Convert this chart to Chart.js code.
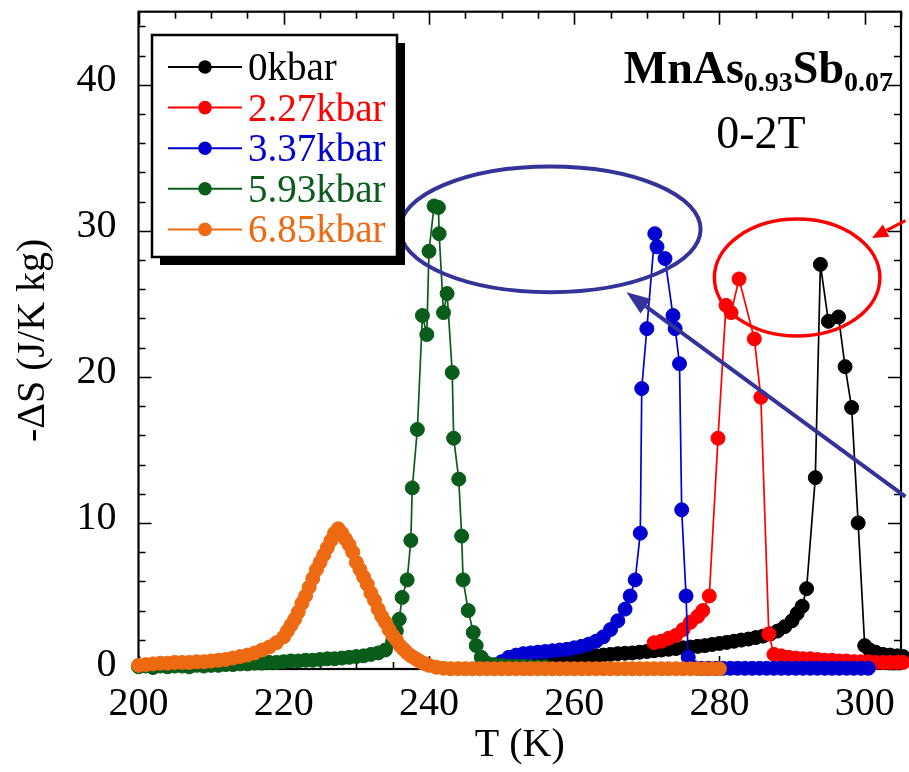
<!DOCTYPE html>
<html><head><meta charset="utf-8">
<script src="https://cdn.jsdelivr.net/npm/chart.js@4.4.0/dist/chart.umd.min.js"></script>
<style>html,body{margin:0;padding:0;background:#fff}canvas{display:block}</style>
</head><body>
<canvas id="c" width="909" height="772"></canvas>
<script>
// ---------- data ----------
const seriesLabels = ['0kbar', '2.27kbar', '3.37kbar', '5.93kbar', '6.85kbar'];
const seriesColors = ['#000000', '#ff0000', '#0000d0', '#0a5c1a', '#ee6a12'];
const xTickValues = [200, 220, 240, 260, 280, 300];
const yTickValues = [0, 10, 20, 30, 40];

// 0 kbar (black)
const t0 = [250,251,252,253,254,255,256,257,258,259,260,261,262,263,264,265,266,267,268,269,270,271,272,273,274,275,276,277,278,279,280,281,282,283,284,285,286,287,288,289,290,290.7,291.4,292,293.2,293.9,295.0,296.4,297.3,298.2,299.1,300.0,300.7,301.5,302.5,303.5,304.5,305.3];
const s0 = [0.3,0.35,0.4,0.45,0.5,0.52,0.55,0.6,0.65,0.7,0.75,0.8,0.85,0.9,0.95,1.0,1.05,1.08,1.1,1.15,1.2,1.25,1.3,1.35,1.4,1.45,1.5,1.55,1.6,1.68,1.75,1.82,1.9,1.98,2.05,2.15,2.25,2.4,2.6,2.9,3.3,3.8,4.3,5.5,13.1,27.7,23.8,24.1,20.7,17.9,10.0,1.6,1.3,1.15,1.0,0.95,0.9,0.85];

// 2.27 kbar (red)
const t227 = [271,272,273,274,275,276,277,277.7,278.6,279.8,280.9,281.6,282.7,284.8,285.7,286.8,287.5,288.5,289.5,290.5,291.5,292.5,293.5,294.5,295.5,296.5,297.5,298.5,299.5,300.5,301.5,302.5,303.5,304.5,305.3];
const s227 = [1.8,1.9,2.1,2.3,2.7,3.2,3.6,4.0,5.0,15.8,24.9,24.4,26.7,22.6,18.6,2.4,1.0,0.9,0.8,0.75,0.7,0.7,0.65,0.6,0.6,0.55,0.55,0.5,0.5,0.5,0.45,0.45,0.45,0.45,0.45];

// 3.37 kbar (blue)
const t337 = [250,251,252,253,254,255,256,257,258,259,260,261,262,263,264,265,266,267,267.7,268.4,269.1,269.3,270.0,271.1,271.4,272.5,273.6,273.9,274.5,274.8,275.4,275.7,276.5,277.5,278.5,279.5,280.5,281.5,282.5,283.5,284.5,285.5,286.5,287.5,288.5,289.5,290.5,291.5,292.5,293.5,294.5,295.5,296.5,297.5,298.5,299.5,300.5];
const s337 = [0.5,0.8,0.95,1.05,1.1,1.15,1.2,1.25,1.3,1.35,1.45,1.55,1.7,1.9,2.2,2.7,3.3,4.1,5.0,6.1,9.3,19.2,23.3,29.8,28.9,28.1,24.2,23.3,20.9,10.9,5.0,0.8,0.1,0.05,0.05,0.05,0.05,0.05,0.05,0.05,0.05,0.05,0.05,0.05,0.05,0.05,0.05,0.05,0.05,0.05,0.05,0.05,0.05,0.05,0.05,0.05,0.05];

// 5.93 kbar (green)
const t593 = [200,201,202,203,204,205,206,207,208,209,210,211,212,213,214,215,216,217,218,219,220,221,222,223,224,225,226,227,228,229,230,231,232,233,234,235,235.5,235.9,236.3,237.0,237.5,237.7,238.4,239.1,239.7,240.0,240.7,241.3,241.4,242.0,242.5,243.2,243.4,244.1,244.5,244.7,245.4,246.1,246.5,247.2,248,249,250,251,252,253,254,255,256];
const s593 = [0.15,0.2,0.1,0.2,0.15,0.2,0.2,0.15,0.25,0.2,0.25,0.25,0.3,0.3,0.35,0.35,0.4,0.4,0.45,0.45,0.5,0.55,0.55,0.6,0.6,0.65,0.7,0.7,0.75,0.8,0.85,0.9,1.0,1.1,1.3,1.9,2.6,3.4,4.9,6.1,8.8,12.4,16.4,24.2,22.9,28.6,31.7,31.6,29.8,24.4,25.7,20.3,15.8,13.0,9.1,6.1,4.0,2.5,1.6,0.8,0.4,0.3,0.25,0.2,0.2,0.2,0.15,0.15,0.15];

// 6.85 kbar (orange)
const t685 = [200,201,202,203,204,205,206,207,208,209,210,211,212,213,214,215,216,217,218,219,220,220.5,221,221.5,222,222.5,223,223.5,224,224.5,225,225.5,226,226.5,227,227.5,228,228.5,229,229.5,230,230.5,231,231.5,232,232.5,233,233.5,234,234.5,235,235.5,236,236.5,237,237.5,238,238.5,239,239.5,240,241,242,243,244,245,246,247,248,249,250,251,252,253,254,255,256,257,258,259,260,261,262,263,264,265,266,267,268,269,270,271,272,273,274,275,276,277,278,279,280];
const s685 = [0.25,0.3,0.35,0.4,0.4,0.45,0.45,0.45,0.5,0.5,0.55,0.6,0.65,0.75,0.85,0.95,1.1,1.3,1.5,1.8,2.2,2.6,3.0,3.4,3.9,4.5,5.0,5.6,6.2,6.8,7.3,7.8,8.3,8.8,9.3,9.6,9.3,8.9,8.5,8.0,7.3,6.8,6.3,5.8,5.2,4.7,4.1,3.6,3.2,2.7,2.3,2.0,1.6,1.35,1.1,0.9,0.75,0.6,0.45,0.35,0.25,0.12,0.05,0.02,0.02,0.02,0.02,0.02,0.02,0.02,0.02,0.02,0.02,0.02,0.02,0.02,0.02,0.02,0.02,0.02,0.02,0.02,0.02,0.02,0.02,0.02,0.02,0.02,0.02,0.02,0.02,0.02,0.02,0.02,0.02,0.02,0.02,0.02,0.02,0.02,0.02];

const seriesT = [t0, t227, t337, t593, t685];
const seriesS = [s0, s227, s337, s593, s685];

// ---------- annotations (data coordinates) ----------
const ellipses = [
  {cx: 256.7, cy: 30.1, rx: 20.7, ry: 4.3, color: '#333399', width: 4},
  {cx: 290.7, cy: 26.8, rx: 11.4, ry: 4.0, color: '#ff0000', width: 3.5}
];
const arrows = [
  {x1: 305.6, y1: 11.8, x2: 267.2, y2: 25.8, color: '#333399', width: 4, head: 24, half: 9},
  {x1: 305.6, y1: 30.7, x2: 301.0, y2: 29.5, color: '#ff0000', width: 3, head: 16, half: 7}
];

const FONT = "'Liberation Serif','Times New Roman',serif";

const datasets = seriesT.map((ts, i) => ({
  label: seriesLabels[i],
  data: ts.map((t, k) => ({x: t, y: seriesS[i][k]})),
  showLine: true,
  clip: false,
  borderColor: seriesColors[i],
  backgroundColor: seriesColors[i],
  pointBackgroundColor: seriesColors[i],
  pointBorderColor: seriesColors[i],
  borderWidth: 1.7,
  pointRadius: 7,
  pointBorderWidth: 1,
  pointHoverRadius: 7,
  tension: 0,
  order: 5 - i
}));

const deco = {
  id: 'deco',
  beforeDatasetsDraw(chart) {
    const {ctx, chartArea: a, scales: {x, y}} = chart;
    ctx.save();
    ctx.strokeStyle = '#000';
    ctx.lineWidth = 1.6;
    ctx.beginPath();
    for (let v = 200; v <= 305; v += 5) {
      const px = Math.round(x.getPixelForValue(v)) + 0.5;
      const L = v % 20 === 0 ? 13 : 7;
      ctx.moveTo(px, a.bottom); ctx.lineTo(px, a.bottom - L);
      ctx.moveTo(px, a.top); ctx.lineTo(px, a.top + L);
    }
    for (let v = 0; v <= 44; v += 2) {
      const py = Math.round(y.getPixelForValue(v)) + 0.5;
      const L = v % 10 === 0 ? 13 : 7;
      ctx.moveTo(a.left, py); ctx.lineTo(a.left + L, py);
      ctx.moveTo(a.right, py); ctx.lineTo(a.right - L, py);
    }
    ctx.stroke();
    ctx.lineWidth = 2.2;
    ctx.strokeRect(a.left, a.top, a.right - a.left, a.bottom - a.top);
    ctx.restore();
  },
  afterDraw(chart) {
    const {ctx, scales: {x, y}} = chart;
    ctx.save();
    // ellipses
    ellipses.forEach(e => {
      const cx = x.getPixelForValue(e.cx), cy = y.getPixelForValue(e.cy);
      const rx = x.getPixelForValue(e.cx + e.rx) - cx;
      const ry = cy - y.getPixelForValue(e.cy + e.ry);
      ctx.beginPath();
      ctx.ellipse(cx, cy, rx, ry, 0, 0, Math.PI * 2);
      ctx.strokeStyle = e.color; ctx.lineWidth = e.width; ctx.stroke();
    });
    // arrows
    arrows.forEach(r => {
      const x1 = x.getPixelForValue(r.x1), y1 = y.getPixelForValue(r.y1);
      const x2 = x.getPixelForValue(r.x2), y2 = y.getPixelForValue(r.y2);
      const ang = Math.atan2(y2 - y1, x2 - x1);
      const bx = x2 - Math.cos(ang) * r.head, by = y2 - Math.sin(ang) * r.head;
      ctx.beginPath(); ctx.moveTo(x1, y1); ctx.lineTo(bx, by);
      ctx.strokeStyle = r.color; ctx.lineWidth = r.width; ctx.stroke();
      ctx.beginPath();
      ctx.moveTo(x2, y2);
      ctx.lineTo(bx + Math.sin(ang) * r.half, by - Math.cos(ang) * r.half);
      ctx.lineTo(bx - Math.sin(ang) * r.half, by + Math.cos(ang) * r.half);
      ctx.closePath(); ctx.fillStyle = r.color; ctx.fill();
    });
    // legend
    const lx = 152, ly = 35, lw = 245, lh = 222;
    ctx.fillStyle = '#000'; ctx.fillRect(lx + 8, ly + 8, lw, lh);
    ctx.fillStyle = '#fff'; ctx.fillRect(lx, ly, lw, lh);
    ctx.strokeStyle = '#000'; ctx.lineWidth = 2.5; ctx.strokeRect(lx, ly, lw, lh);
    ctx.font = '39px ' + FONT; ctx.textAlign = 'left'; ctx.textBaseline = 'alphabetic';
    seriesLabels.forEach((lab, i) => {
      const ry = 67 + i * 40.6;
      ctx.strokeStyle = seriesColors[i]; ctx.lineWidth = 2;
      ctx.beginPath(); ctx.moveTo(168, ry); ctx.lineTo(242, ry); ctx.stroke();
      ctx.fillStyle = seriesColors[i];
      ctx.beginPath(); ctx.arc(205, ry, 6.8, 0, Math.PI * 2); ctx.fill();
      ctx.fillText(lab, 248, ry + 13);
    });
    // title
    const parts = [['MnAs', 'bold 46px ' + FONT, 0], ['0.93', 'bold 28px ' + FONT, 8], ['Sb', 'bold 46px ' + FONT, 0], ['0.07', 'bold 28px ' + FONT, 8]];
    let total = 0;
    parts.forEach(p => { ctx.font = p[1]; total += ctx.measureText(p[0]).width; });
    let xx = 893 - total;
    ctx.fillStyle = '#000';
    parts.forEach(p => { ctx.font = p[1]; ctx.fillText(p[0], xx, 83 + p[2]); xx += ctx.measureText(p[0]).width; });
    ctx.font = '46px ' + FONT; ctx.textAlign = 'center';
    ctx.fillText('0-2T', 761, 148);
    ctx.restore();
  }
};

new Chart(document.getElementById('c'), {
  type: 'scatter',
  data: {datasets},
  options: {
    responsive: false,
    animation: false,
    events: [],
    layout: {padding: {left: 0, top: 11.7, right: 3, bottom: 0}},
    plugins: {legend: {display: false}, tooltip: {enabled: false}},
    scales: {
      x: {
        type: 'linear', min: 200, max: 305,
        afterBuildTicks: s => { s.ticks = xTickValues.map(v => ({value: v})); },
        afterFit: s => { s.height = 103; s.paddingLeft = 0; s.paddingRight = 0; },
        grid: {display: false, drawTicks: false},
        border: {display: false},
        ticks: {font: {family: FONT, size: 40}, color: '#000', padding: 11, maxRotation: 0, autoSkip: false},
        title: {display: true, text: 'T (K)', font: {family: FONT, size: 40}, color: '#000', padding: {top: 0, bottom: 3}}
      },
      y: {
        type: 'linear', min: 0, max: 45,
        afterBuildTicks: s => { s.ticks = yTickValues.map(v => ({value: v})); },
        afterFit: s => { s.width = 138.5; s.paddingTop = 0; s.paddingBottom = 0; },
        grid: {display: false, drawTicks: false},
        border: {display: false},
        ticks: {font: {family: FONT, size: 40}, color: '#000', padding: 22, labelOffset: -4},
        title: {display: true, text: '-ΔS (J/K kg)', font: {family: FONT, size: 40}, color: '#000', padding: {top: 9, bottom: 0}}
      }
    }
  },
  plugins: [deco]
});
</script>
</body></html>
